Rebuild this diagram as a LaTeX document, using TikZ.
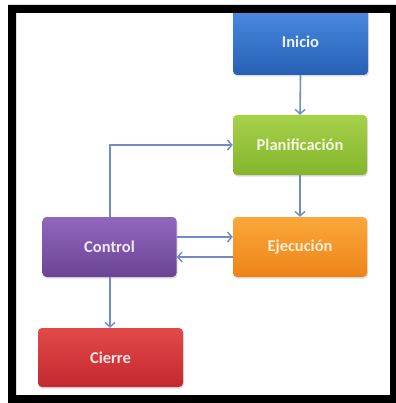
\documentclass[tikz,border=0pt]{standalone}
\usepackage{fontspec}
\setmainfont{Carlito}
\usetikzlibrary{arrows.meta,shadows}

\definecolor{linkblue}{HTML}{6F8CC6}
\definecolor{bluetop}{HTML}{4A8AE0}\definecolor{bluebot}{HTML}{2660B5}
\definecolor{greentop}{HTML}{A6D14A}\definecolor{greenbot}{HTML}{84B52C}
\definecolor{orangetop}{HTML}{FBA83A}\definecolor{orangebot}{HTML}{EE8318}
\definecolor{purpletop}{HTML}{9167BE}\definecolor{purplebot}{HTML}{6B4495}
\definecolor{redtop}{HTML}{E24A48}\definecolor{redbot}{HTML}{C4282E}

\tikzset{
  stagebox/.style={minimum width=134pt, minimum height=60pt, inner sep=0pt,
    rounded corners=4pt, font=\fontsize{16.5}{18}\selectfont\bfseries,
    drop shadow={shadow xshift=1pt, shadow yshift=-1.5pt, opacity=0.25}},
  link/.style={draw=linkblue, line width=1.6pt,
    -{Straight Barb[length=4.5pt, width=10pt, line width=1.4pt]}},
}

\begin{document}
\begin{tikzpicture}[x=1pt, y=-1pt]
\useasboundingbox (0,0) rectangle (395,403);
\fill[white] (0,0) rectangle (395,403);

% stages
\node[stagebox, top color=bluetop, bottom color=bluebot, text=white!88!bluetop,
      minimum width=135pt, minimum height=66pt] (inicio) at (300.5,42) {Inicio};
\node[stagebox, top color=greentop, bottom color=greenbot, text=white!85!greentop]
      (plan) at (300,145) {Planificación};
\node[stagebox, top color=orangetop, bottom color=orangebot, text=white!80!orangetop]
      (ejec) at (300,247) {Ejecución};
\node[stagebox, top color=purpletop, bottom color=purplebot, text=white!85!purpletop]
      (control) at (109.5,247) {Control};
\node[stagebox, top color=redtop, bottom color=redbot, text=white!85!redtop,
      minimum width=145pt, minimum height=59pt] (cierre) at (110.5,357.5) {Cierre};

% connectors
\draw[link] (inicio.south) -- (plan.north);
\draw[link] (plan.south) -- (ejec.north);
\draw[link] (control.north -| 110,0) |- (plan.west);
\draw[link] ([yshift=10pt]control.east) -- ([yshift=10pt]ejec.west);
\draw[link] ([yshift=-10pt]ejec.west) -- ([yshift=-10pt]control.east);
\draw[link] (control.south -| 110,0) -- (cierre.north -| 110,0);

% outer frame
\fill[black, even odd rule] (8,5) rectangle (400,410) (16,13) rectangle (390,395);
\end{tikzpicture}
\end{document}
